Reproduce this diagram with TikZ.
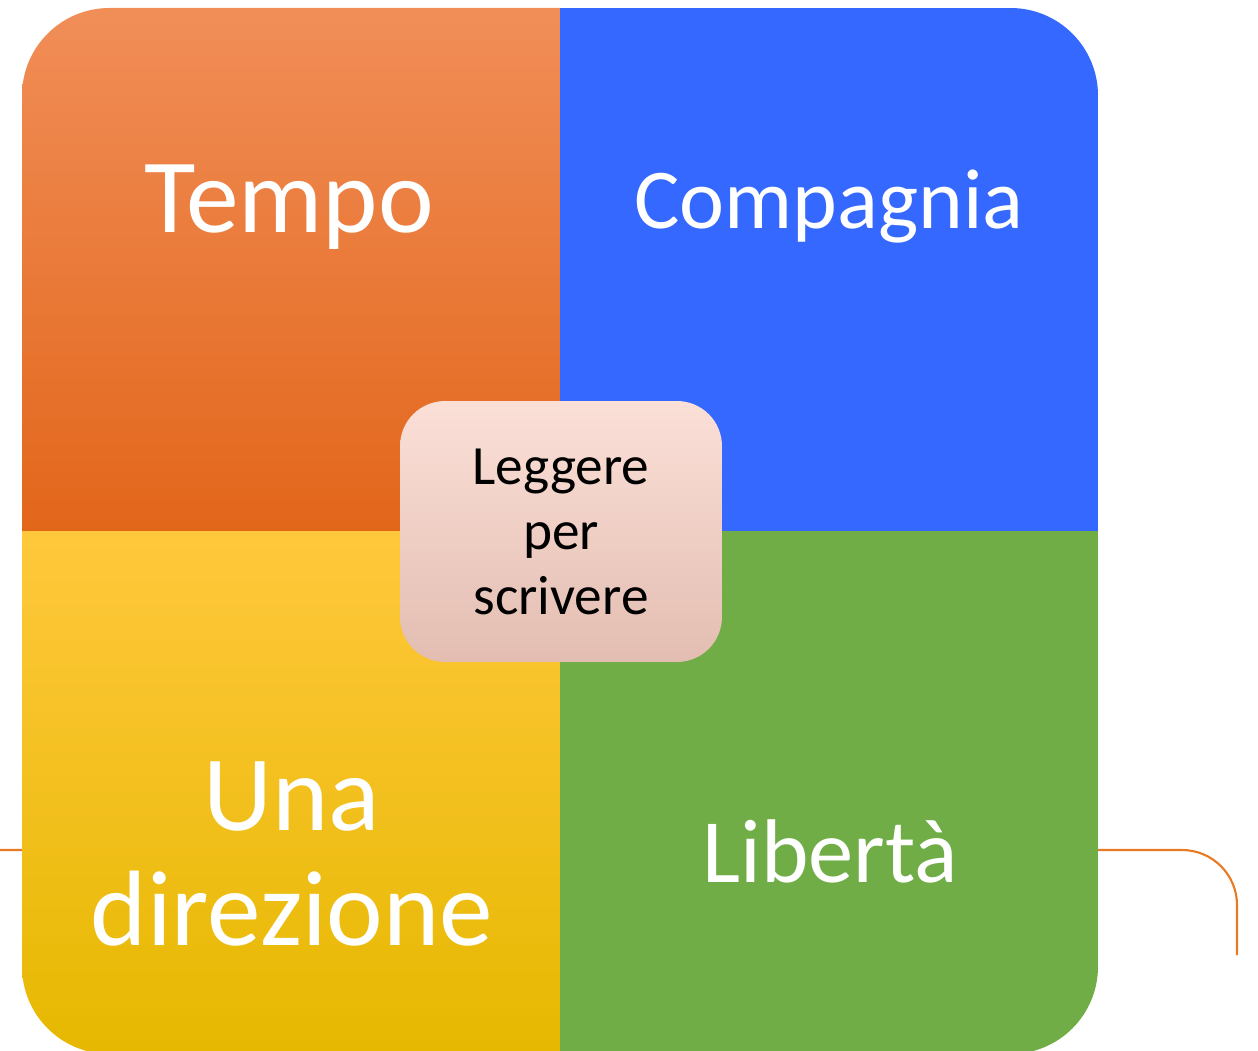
\documentclass[tikz,border=0pt]{standalone}
\usepackage{fontspec}
\setmainfont{Carlito}
\definecolor{tempoTop}{HTML}{F18E58}
\definecolor{tempoMid}{HTML}{F47D30}
\definecolor{tempoBot}{HTML}{E2661A}
\definecolor{compBlue}{HTML}{3568FF}
\definecolor{unaTop}{HTML}{FFC83C}
\definecolor{unaMid}{HTML}{FEC400}
\definecolor{unaBot}{HTML}{E6B800}
\definecolor{libGreen}{HTML}{70AD47}
\definecolor{boxTop}{HTML}{FBE0D8}
\definecolor{boxBot}{HTML}{E3BDB1}
\definecolor{lineOrange}{HTML}{E87A24}

\begin{document}
\begin{tikzpicture}[x=0.02cm, y=-0.02cm,
  quad/.style={text=white, align=center, anchor=base},
  centerbox/.style={rounded corners=0.9cm, minimum width=6.44cm, minimum height=5.22cm,
    top color=boxTop, bottom color=boxBot, align=center,
    font=\fontsize{31.5}{37}\selectfont}]
\useasboundingbox (0,0) rectangle (1258,1051);

% Linea di sfondo
\draw[lineOrange, line width=1.2pt] (0,850) -- (1182,850)
  arc[start angle=-90, end angle=0, radius=55] -- (1237,955);

% Quadranti
\begin{scope}
\clip[rounded corners=1.75cm] (22,8) rectangle (1098,1054);
\shade[top color=tempoTop, middle color=tempoMid, bottom color=tempoBot] (22,8) rectangle (560,531);
\fill[compBlue] (560,8) rectangle (1098,531);
\shade[top color=unaTop, middle color=unaMid, bottom color=unaBot] (22,531) rectangle (560,1054);
\fill[libGreen] (560,531) rectangle (1098,1054);
\end{scope}

% Testi
\node[quad, font=\fontsize{60}{66}\selectfont] (tempo) at (289,232) {Tempo};
\node[quad, font=\fontsize{48.5}{54}\selectfont] (compagnia) at (829,228) {Compagnia};
\node[quad, font=\fontsize{61}{65.4}\selectfont] (una) at (292,945) {Una\\direzione};
\node[quad, font=\fontsize{51.5}{56}\selectfont] (liberta) at (830,882) {Libertà};

% Centro
\node[centerbox] (centro) at (561,531.5) {Leggere\\per\\scrivere};
\end{tikzpicture}
\end{document}
